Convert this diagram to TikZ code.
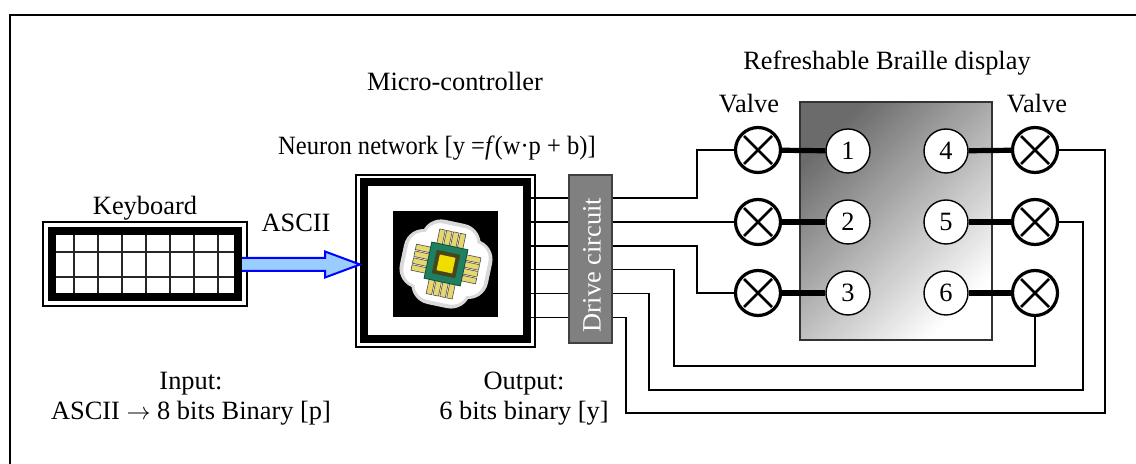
\documentclass[tikz,border=0pt]{standalone}
\usepackage{graphicx}
\usepackage{fontspec}
\setmainfont{Liberation Serif}
\definecolor{arrowblue}{RGB}{153,204,255}
\definecolor{chipgreen}{RGB}{30,128,96}
\definecolor{chipdark}{RGB}{70,70,30}
\definecolor{chipcore}{RGB}{240,222,0}
\definecolor{chippin}{RGB}{230,216,110}
\begin{document}
\begin{tikzpicture}[x=0.5pt,y=-0.5pt,
  txt/.style={font=\fontsize{13.2}{15.8}\selectfont, inner sep=0pt, anchor=base},
  thinframe/.style={draw, line width=0.75pt, inner sep=0pt},
  thickframe/.style={draw, line width=4pt, inner sep=0pt},
  wire/.style={line width=0.9pt},
  valvelink/.style={line width=2.6pt},
  gridline/.style={line width=1pt, black!85},
  valve/.style={circle, draw, line width=1.6pt, fill=white, minimum size=22.5pt, inner sep=0pt,
    path picture={\draw[line width=1.4pt]
      ([shift={(-7pt,-7pt)}]path picture bounding box.center) -- ++(14pt,14pt)
      ([shift={(-7pt,7pt)}]path picture bounding box.center) -- ++(14pt,-14pt);}},
  braillepin/.style={circle, draw, line width=0.7pt, fill=white, minimum size=22pt,
    inner sep=0pt, font=\fontsize{13.2}{15.8}\selectfont},
]
\useasboundingbox (0,0) rectangle (1136,464);

% outer frame
\draw[line width=1pt] (10,464) -- (10,15) -- (1136,15);

% ---------- keyboard ----------
\node[thinframe, minimum width=102pt, minimum height=42pt] (kbout) at (145,264) {};
\node[thickframe, minimum width=93pt, minimum height=33pt] (kb) at (145,264) {};
\draw[gridline] (56,252) -- (234,252) (56,277) -- (234,277);
\foreach \x in {73.5,97.5,121.5,145.5,170,194,218}
  \draw[gridline] (\x,235) -- (\x,293);
\node[txt] (kblbl) at (145,215) {Keyboard};

% ---------- micro-controller ----------
\node[thinframe, minimum width=89.5pt, minimum height=86pt] (mcuout) at (445.5,261) {};
\node[thickframe, minimum width=81.5pt, minimum height=78.5pt] (mcu) at (445.5,260.5) {};
\fill[black] (393,211) rectangle (498,317);
\begin{scope}[shift={(446,264)}, rotate=-12]
  \fill[black!15, rounded corners=10pt] (-45,-30) rectangle (45,30);
  \fill[black!15, rounded corners=10pt] (-30,-43) rectangle (30,43);
  \fill[white, rounded corners=8pt] (-41,-27) rectangle (41,27);
  \fill[white, rounded corners=8pt] (-27,-39) rectangle (27,39);
  \foreach \p in {-10.5,-3.5,3.5,10.5} {
    \filldraw[fill=chippin, draw=black!70, line width=0.3pt] (\p-2.8,-33) rectangle (\p+2.8,-17);
    \filldraw[fill=chippin, draw=black!70, line width=0.3pt] (\p-2.8,17) rectangle (\p+2.8,33);
    \filldraw[fill=chippin, draw=black!70, line width=0.3pt] (-33,\p-2.8) rectangle (-17,\p+2.8);
    \filldraw[fill=chippin, draw=black!70, line width=0.3pt] (17,\p-2.8) rectangle (33,\p+2.8);
  }
  \filldraw[fill=chipgreen, draw=chipgreen!60!black, line width=0.4pt] (-18.5,-18.5) rectangle (18.5,18.5);
  \fill[chipdark] (-12,-12) rectangle (12,12);
  \fill[chipcore] (-8,-8) rectangle (8,8);
\end{scope}
\node[txt] (mcutitle) at (455,91) {Micro-controller};
\node[txt] (nnlbl) at (437,155)
  {\scalebox{0.93}[1]{Neuron network [y =\textit{f}(w·p + b)]}};

% ---------- ASCII arrow ----------
\fill[arrowblue] (kb.east |- 0,258) -- (325,258) -- (325,251.5) -- (mcu.west |- 0,264.5)
  -- (325,277.5) -- (325,271) -- (kb.east |- 0,271) -- cycle;
\draw[blue, line width=1pt, line join=miter] (kb.east |- 0,258) -- (325,258) -- (325,251.5)
  -- (mcu.west |- 0,264.5) -- (325,277.5) -- (325,271) -- (kb.east |- 0,271);
\node[txt] (asciilbl) at (296,232) {ASCII};

% ---------- drive circuit ----------
\node[draw=black!75, fill=black!50, line width=0.75pt, minimum width=21.5pt,
  minimum height=84pt, inner sep=0pt] (drv) at (590.5,259) {};
\node[txt, anchor=center, rotate=90, text=white] (drvlbl) at (592,265) {Drive circuit};

\coordinate (r1) at (0,198);
\coordinate (r2) at (0,222);
\coordinate (r3) at (0,246);
\coordinate (r4) at (0,269.5);
\coordinate (r5) at (0,293.5);
\coordinate (r6) at (0,317.5);
\foreach \i in {1,...,6}
  \draw[wire] (mcu.east |- r\i) -- (drv.west |- r\i);

% ---------- refreshable Braille display ----------
\node[draw=black!80, line width=1pt, top color=black!58, bottom color=white,
  shading angle=45, minimum width=96pt, minimum height=119pt, inner sep=0pt] (bd) at (896,221) {};
\node[txt] (bdlbl) at (887,70) {Refreshable Braille display};
\node[txt] (vlbl1) at (749,112.5) {Valve};
\node[txt] (vlbl2) at (1037,112.5) {Valve};

\node[braillepin] (d1) at (848,151) {1};
\node[braillepin] (d2) at (848,222) {2};
\node[braillepin] (d3) at (848,293) {3};
\node[braillepin] (d4) at (946,151) {4};
\node[braillepin] (d5) at (946,222) {5};
\node[braillepin] (d6) at (946,293) {6};

\node[valve] (v1) at (758,150) {};
\node[valve] (v2) at (758,222) {};
\node[valve] (v3) at (758,293) {};
\node[valve] (v4) at (1035,150) {};
\node[valve] (v5) at (1035,222) {};
\node[valve] (v6) at (1035,293) {};

\draw[valvelink] (v1) -- (d1);
\draw[valvelink] (v2) -- (d2);
\draw[valvelink] (v3) -- (d3);
\draw[valvelink] (d4) -- (v4);
\draw[valvelink] (d5) -- (v5);
\draw[valvelink] (d6) -- (v6);

% ---------- wiring from the drive circuit to the valves ----------
\coordinate (j13) at (697,0);
\coordinate (j4) at (674,366);
\coordinate (j5) at (649,390);
\coordinate (j6) at (626,413);
\coordinate (e5) at (1083,0);
\coordinate (e6) at (1105,0);
\draw[wire] (drv.east |- r1) -| (j13 |- v1) -- (v1);
\draw[wire] (drv.east |- v2) -- (v2);
\draw[wire] (drv.east |- r3) -| (j13 |- v3) -- (v3);
\draw[wire] (drv.east |- r4) -| (j4) -| (v6.south);
\draw[wire] (drv.east |- r5) -| (j5) -| (e5 |- v5) -- (v5);
\draw[wire] (drv.east |- r6) -| (j6) -| (e6 |- v4) -- (v4);

% ---------- captions ----------
\node[txt] (in1) at (191,390) {Input:};
\node[txt] (in2) at (191,420) {ASCII $\rightarrow$ 8 bits Binary [p]};
\node[txt] (out1) at (524,390) {Output:};
\node[txt] (out2) at (524,420) {6 bits binary [y]};
\end{tikzpicture}
\end{document}
